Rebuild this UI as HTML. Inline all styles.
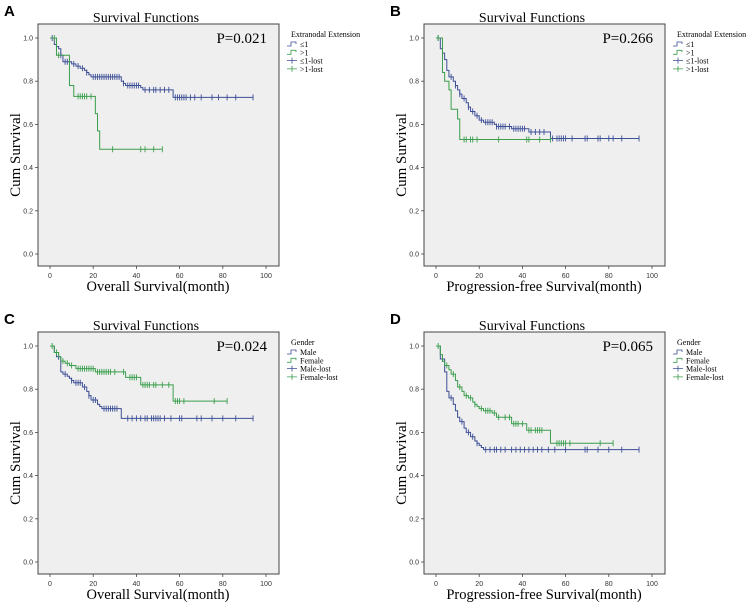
<!DOCTYPE html>
<html><head><meta charset="utf-8">
<style>
html,body{margin:0;padding:0;background:#fff;}
svg{display:block;}
text{font-family:"Liberation Serif",serif;}
.tick{font-family:"Liberation Sans",sans-serif;font-size:7px;fill:#333;}
</style></head>
<body>
<svg id="fig" width="753" height="608" viewBox="0 0 753 608" xmlns="http://www.w3.org/2000/svg"></svg>
<script>
// Panel A: Overall survival by extranodal extension
const aBlueT=[2,3,4,5,6,10,12,14,16,17,18,19,33,34,35,42,43,57];
const aBlueS=[0.97,0.96,0.95,0.92,0.89,0.88,0.87,0.86,0.85,0.84,0.83,0.82,0.80,0.79,0.78,0.77,0.76,0.725];
const aBlueC=[1,3,5,7,8,9,11,13,15,17,20,21,22,23,24,25,26,27,28,29,30,31,32,34,36,37,38,39,40,41,44,46,48,49,51,53,55,58,59,60,61,62,63,65,67,70,75,78,82,86,94];
const aGreenT=[3,9,11,21,22,23];
const aGreenS=[0.92,0.78,0.73,0.65,0.57,0.485];
const aGreenC=[2,4,13,14,15,16,17,19,29,42,44,48,52];
// Panel B: PFS by extranodal extension
const bBlueT=[2,3,4,5,6,8,9,10,11,12,14,15,16,18,20,22,27,28,35,43,53];
const bBlueS=[0.95,0.93,0.90,0.85,0.82,0.80,0.78,0.76,0.74,0.72,0.70,0.68,0.66,0.64,0.62,0.61,0.60,0.59,0.58,0.565,0.535];
const bBlueC=[1,3,7,9,11,13,15,17,19,21,23,24,25,26,28,29,30,31,32,34,36,37,38,39,40,41,44,46,48,50,54,56,57,58,59,60,63,69,70,75,76,80,82,86,94];
const bGreenT=[3,4,6,7,10,11];
const bGreenS=[0.84,0.80,0.76,0.67,0.625,0.53];
const bGreenC=[1,13,14,16,17,19,29,42,43,48,53];
// Panel C: OS by gender
const cBlueT=[2,3,5,6,8,9,10,11,15,17,18,19,22,23,24,33];
const cBlueS=[0.97,0.95,0.88,0.87,0.86,0.85,0.84,0.83,0.81,0.79,0.77,0.75,0.73,0.72,0.71,0.665];
const cBlueC=[4,7,10,12,13,14,16,18,20,21,25,26,27,28,29,30,31,36,38,40,42,44,45,47,48,49,50,51,53,56,60,61,68,70,75,80,86,94];
const cGreenT=[2,4,5,7,9,12,21,35,42,57];
const cGreenS=[0.97,0.95,0.93,0.92,0.91,0.895,0.88,0.855,0.82,0.745];
const cGreenC=[1,3,6,8,10,13,14,15,16,17,18,19,20,22,23,24,25,26,27,28,30,34,37,38,39,40,43,44,45,46,48,49,52,55,58,59,60,62,76,82];
// Panel D: PFS by gender
const dBlueT=[2,4,5,6,8,9,10,11,13,14,16,18,19,20,21,22];
const dBlueS=[0.94,0.88,0.79,0.76,0.73,0.70,0.67,0.65,0.62,0.60,0.58,0.56,0.55,0.54,0.53,0.52];
const dBlueC=[3,7,12,15,17,19,23,25,27,28,30,32,35,37,39,41,43,45,47,49,52,55,60,69,70,75,80,86,94];
const dGreenT=[2,3,4,6,7,9,10,12,13,15,17,18,19,20,22,26,28,35,42,53];
const dGreenS=[0.96,0.93,0.91,0.89,0.87,0.84,0.81,0.79,0.77,0.76,0.74,0.73,0.72,0.71,0.70,0.69,0.67,0.64,0.61,0.55];
const dGreenC=[1,5,8,11,14,16,18,21,23,24,25,27,29,32,34,36,37,38,40,43,44,46,47,48,49,56,57,58,59,60,62,76,82];

const xTicks=[0,20,40,60,80,100];
const yTicks=[0,0.2,0.4,0.6,0.8,1.0];
const BLUE="#3d4f96", GREEN="#3a9e4c";
const NS="http://www.w3.org/2000/svg";
const svg=document.getElementById('fig');
function mk(tag,attrs,parent,txt){const e=document.createElementNS(NS,tag);for(const k in attrs)e.setAttribute(k,attrs[k]);if(txt!==undefined)e.textContent=txt;(parent||svg).appendChild(e);return e;}

function survAt(T,S,t){let s=1;for(let i=0;i<T.length;i++){if(T[i]<=t)s=S[i];}return s;}

function panel(ox,oy,letter,pval,xTitle,legTitle,labels,series,key){
  const g=mk('g',{});
  
  
  const bx=ox+38,by=oy+24,bw=241,bh=242;
  const xs=t=>ox+50+t*2.16;
  const ys=v=>oy+254-v*216;
  const L=mk('text',{x:ox+4,y:oy+16,'font-size':15,'font-weight':'bold',style:'font-family:"Liberation Sans",sans-serif'},g,letter);
  
  const t=mk('text',{x:ox+146,y:oy+22,'font-size':14,'text-anchor':'middle'},g,'Survival Functions');
  
  const r=mk('rect',{x:bx,y:by,width:bw,height:bh,fill:'#efefef',stroke:'#444','stroke-width':1},g);
  
  xTicks.forEach(v=>{
    mk('line',{x1:xs(v),x2:xs(v),y1:by+bh,y2:by+bh+3,stroke:'#444','stroke-width':0.8},g);
    const tx=mk('text',{class:'tick',x:xs(v),y:by+bh+12,'text-anchor':'middle'},g,String(v));
    
  });
  yTicks.forEach(v=>{
    mk('line',{x1:bx-3,x2:bx,y1:ys(v),y2:ys(v),stroke:'#444','stroke-width':0.8},g);
    const ty=mk('text',{class:'tick',x:bx-5,y:ys(v)+2.5,'text-anchor':'end'},g,v.toFixed(1));
    
  });
  const xt=mk('text',{x:ox+158,y:oy+291,'font-size':14.5,'text-anchor':'middle'},g,xTitle);
  
  const yt=mk('text',{x:0,y:0,'font-size':15,'text-anchor':'middle',transform:`translate(${ox+20},${oy+155}) rotate(-90)`},g,'Cum Survival');
  
  const p=mk('text',{x:bx+bw-12,y:by+19,'font-size':15,'text-anchor':'end'},g,pval);
  
  series.forEach((s,si)=>{
    let d=`M${xs(0)},${ys(1)}`;
    for(let i=0;i<s.T.length;i++){d+=` H${xs(s.T[i])} V${ys(s.S[i])}`;}
    d+=` H${xs(s.end)}`;
    const path=mk('path',{d:d,fill:'none',stroke:s.color,'stroke-width':1},g);
    
    
    s.C.forEach(c=>{
      const v=survAt(s.T,s.S,c);
      const m=mk('path',{d:`M${xs(c)},${ys(v)-3}V${ys(v)+3}`,stroke:s.color,'stroke-width':0.9},g);
      
      
    });
  });
  const lx=ox+287,ly=oy+37;
  const lt=mk('text',{x:lx+4,y:ly,'font-size':8},g,legTitle);
  
  labels.forEach((lab,i)=>{
    const y=ly+9+i*8.3;const c=i%2===0?BLUE:GREEN;
    const eg=mk('g',{},g);
    
    
    if(i<2) mk('path',{d:`M${lx},${y}H${lx+4}V${y-4}H${lx+9}V${y-2}`,fill:'none',stroke:c,'stroke-width':0.8},eg);
    else mk('path',{d:`M${lx},${y-2}H${lx+10}M${lx+5},${y-5}V${y+1}`,fill:'none',stroke:c,'stroke-width':0.8},eg);
    mk('text',{x:lx+13,y:y+1,'font-size':8},eg,lab);
  });
}
const extLab=['≤1','>1','≤1-lost','>1-lost'];
const genLab=['Male','Female','Male-lost','Female-lost'];
panel(0,0,'A','P=0.021','Overall Survival(month)','Extranodal Extension',extLab,[
 {name:'le1',T:aBlueT,S:aBlueS,C:aBlueC,end:94,color:BLUE},
 {name:'gt1',T:aGreenT,S:aGreenS,C:aGreenC,end:52,color:GREEN}],'a');
panel(386,0,'B','P=0.266','Progression-free Survival(month)','Extranodal Extension',extLab,[
 {name:'le1',T:bBlueT,S:bBlueS,C:bBlueC,end:94,color:BLUE},
 {name:'gt1',T:bGreenT,S:bGreenS,C:bGreenC,end:53,color:GREEN}],'b');
panel(0,308,'C','P=0.024','Overall Survival(month)','Gender',genLab,[
 {name:'male',T:cBlueT,S:cBlueS,C:cBlueC,end:94,color:BLUE},
 {name:'female',T:cGreenT,S:cGreenS,C:cGreenC,end:82,color:GREEN}],'c');
panel(386,308,'D','P=0.065','Progression-free Survival(month)','Gender',genLab,[
 {name:'male',T:dBlueT,S:dBlueS,C:dBlueC,end:94,color:BLUE},
 {name:'female',T:dGreenT,S:dGreenS,C:dGreenC,end:82,color:GREEN}],'d');
</script>
</body></html>
